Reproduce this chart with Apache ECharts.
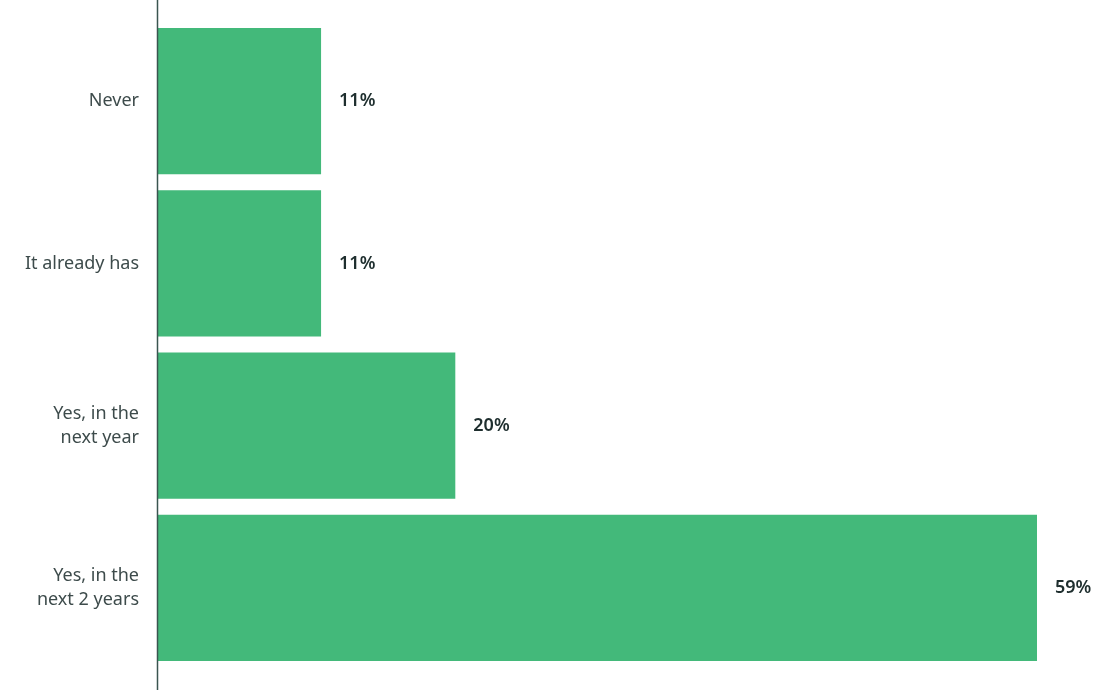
<!DOCTYPE html>
<html>
<head>
<meta charset="utf-8">
<script src="https://cdn.jsdelivr.net/npm/echarts@6/dist/echarts.min.js"></script>
<style>html,body{margin:0;padding:0;background:#fff}#c{width:1100px;height:690px}</style>
</head>
<body>
<div id="c"></div>
<script>
const categories = ["Never", "It already has", "Yes, in the\nnext year", "Yes, in the\nnext 2 years"];
const values = [11, 11, 20, 59];

const chart = echarts.init(document.getElementById('c'));
chart.setOption({
  animation: false,
  grid: { left: 157, right: 63, top: 20, bottom: 21 },
  xAxis: { type: 'value', min: 0, max: 59, show: false },
  yAxis: {
    type: 'category', inverse: true, data: categories,
    axisLine: { show: false }, axisTick: { show: false },
    axisLabel: { margin: 18, color: '#3d4b4b', fontSize: 18, fontFamily: 'Noto Sans', lineHeight: 24, align: 'right' }
  },
  graphic: [{
    type: 'line', shape: { x1: 157.5, y1: 0, x2: 157.5, y2: 690 },
    style: { stroke: '#3a5550', lineWidth: 1.5 }, z: 10
  }],
  series: [{
    type: 'bar', data: values, barCategoryGap: '10%',
    itemStyle: { color: '#43b97a' },
    label: {
      show: true, position: 'right', distance: 18, formatter: '{c}%',
      color: '#1e2e2e', fontSize: 18, fontFamily: 'Noto Sans', fontWeight: 600
    }
  }]
});
</script>
</body>
</html>
